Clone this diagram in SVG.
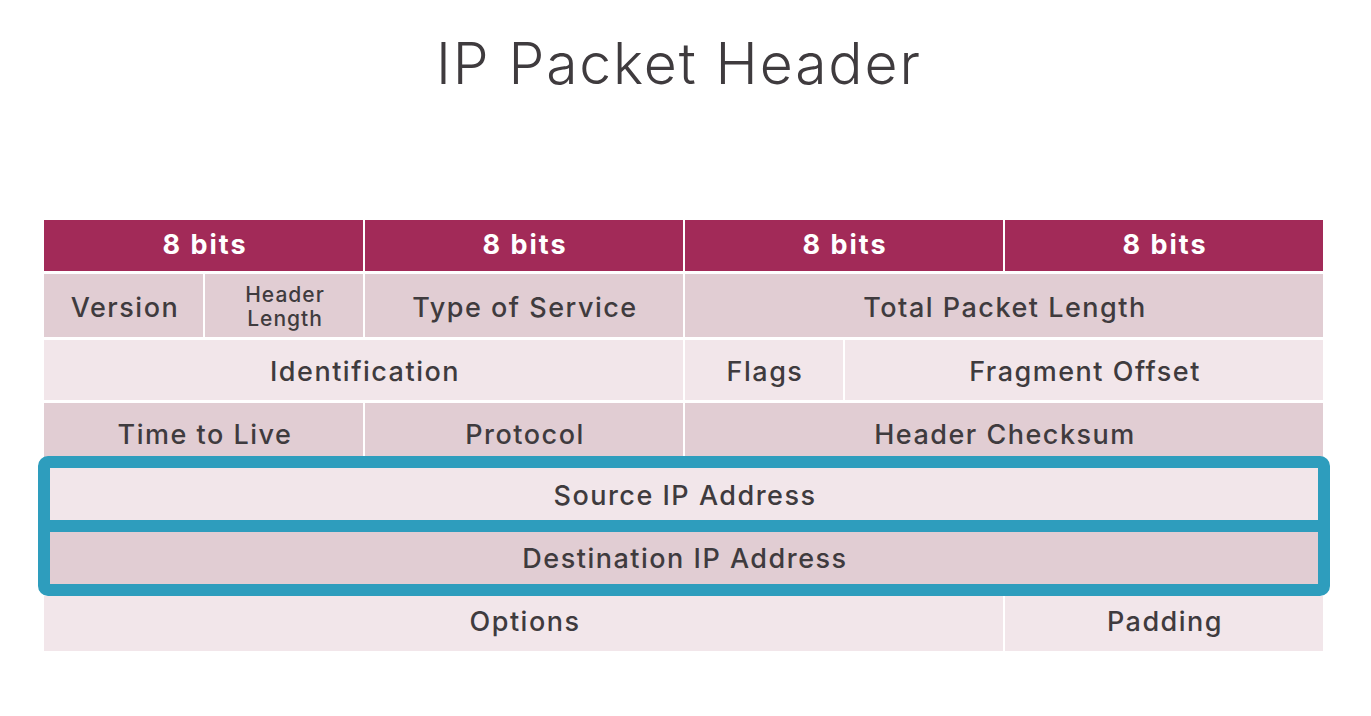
<svg xmlns="http://www.w3.org/2000/svg" width="1371" height="716" viewBox="0 0 1371 716">
  <style>
    .hd { fill: #a22a58; }
    .dk { fill: #e1cdd3; }
    .lt { fill: #f2e6ea; }
    .ht { font-family: Inter, "Liberation Sans", sans-serif; font-weight: 700; font-size: 27px; letter-spacing: 2px; fill: #ffffff; text-anchor: middle; }
    .ct { font-family: Inter, "Liberation Sans", sans-serif; font-weight: 500; font-size: 27px; letter-spacing: 1.5px; fill: #3f3b3e; text-anchor: middle; }
    .sm { font-family: Inter, "Liberation Sans", sans-serif; font-weight: 500; font-size: 21px; letter-spacing: 1px; fill: #3f3b3e; text-anchor: middle; }
    .title { font-family: Inter, "Liberation Sans", sans-serif; font-weight: 300; font-size: 57px; fill: #3f3b3e; text-anchor: middle; }
  </style>
  <rect width="1371" height="716" fill="#ffffff"/>
  <text class="title" x="678" y="84" textLength="484">IP Packet Header</text>

  <!-- header row: 4 x 8 bits -->
  <g id="bits">
    <rect class="hd" x="44" y="220" width="319" height="51"/>
    <rect class="hd" x="365" y="220" width="318" height="51"/>
    <rect class="hd" x="685" y="220" width="318" height="51"/>
    <rect class="hd" x="1005" y="220" width="318" height="51"/>
    <text class="ht" x="205" y="254">8 bits</text>
    <text class="ht" x="525" y="254">8 bits</text>
    <text class="ht" x="845" y="254">8 bits</text>
    <text class="ht" x="1165" y="254">8 bits</text>
  </g>

  <!-- row 1 -->
  <g id="row1">
    <rect class="dk" x="44" y="274" width="159" height="63"/>
    <rect class="dk" x="205" y="274" width="158" height="63"/>
    <rect class="dk" x="365" y="274" width="318" height="63"/>
    <rect class="dk" x="685" y="274" width="638" height="63"/>
    <text class="ct" x="125" y="317">Version</text>
    <text class="sm" x="285" y="302">Header</text>
    <text class="sm" x="285" y="326">Length</text>
    <text class="ct" x="525" y="317">Type of Service</text>
    <text class="ct" x="1005" y="317">Total Packet Length</text>
  </g>

  <!-- row 2 -->
  <g id="row2">
    <rect class="lt" x="44" y="340" width="639" height="60"/>
    <rect class="lt" x="685" y="340" width="158" height="60"/>
    <rect class="lt" x="845" y="340" width="478" height="60"/>
    <text class="ct" x="365" y="381">Identification</text>
    <text class="ct" x="765" y="381">Flags</text>
    <text class="ct" x="1085" y="381">Fragment Offset</text>
  </g>

  <!-- row 3 -->
  <g id="row3">
    <rect class="dk" x="44" y="403" width="319" height="60"/>
    <rect class="dk" x="365" y="403" width="318" height="60"/>
    <rect class="dk" x="685" y="403" width="638" height="60"/>
    <text class="ct" x="205" y="444">Time to Live</text>
    <text class="ct" x="525" y="444">Protocol</text>
    <text class="ct" x="1005" y="444">Header Checksum</text>
  </g>

  <!-- addresses -->
  <g id="source">
    <rect class="lt" x="44" y="462" width="1279" height="64"/>
    <text class="ct" x="685" y="505">Source IP Address</text>
  </g>
  <g id="destination">
    <rect class="dk" x="44" y="526" width="1279" height="64"/>
    <text class="ct" x="685" y="568">Destination IP Address</text>
  </g>

  <!-- options row -->
  <g id="options">
    <rect class="lt" x="44" y="596" width="959" height="55"/>
    <rect class="lt" x="1005" y="596" width="318" height="55"/>
    <text class="ct" x="525" y="631">Options</text>
    <text class="ct" x="1165" y="631">Padding</text>
  </g>

  <!-- highlight around the address rows -->
  <g id="highlight" fill="none" stroke="#2e9dbd" stroke-width="12">
    <rect x="44" y="462" width="1280" height="128" rx="4"/>
    <line x1="44" y1="526" x2="1324" y2="526"/>
  </g>
</svg>
